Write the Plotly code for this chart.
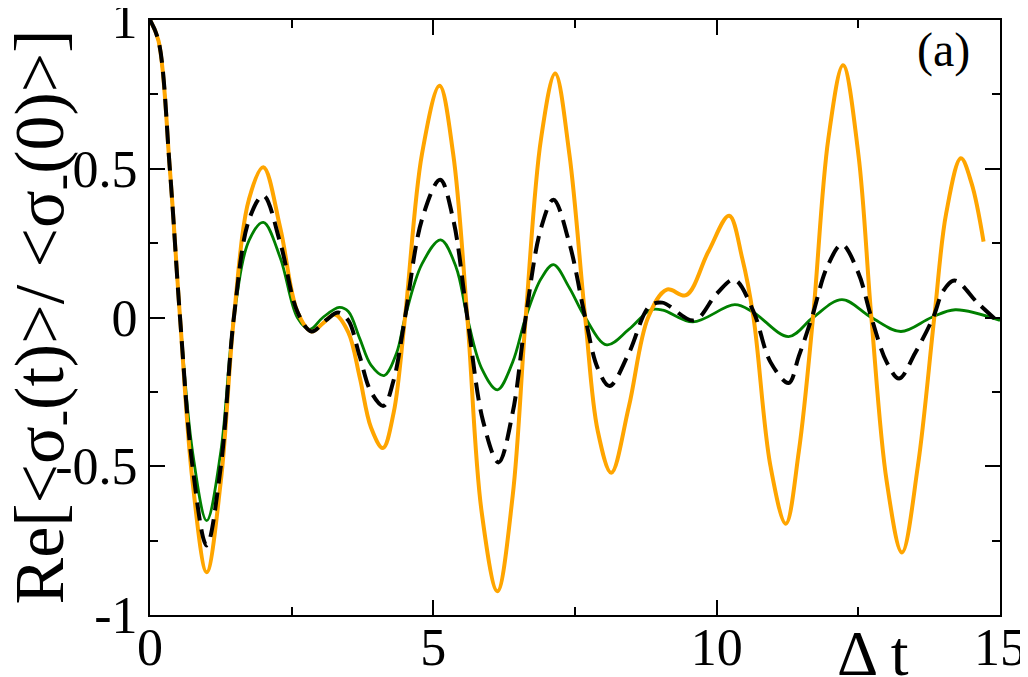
import plotly.graph_objects as go

# curves (t, Re[...])
t_orange = [0, 0.15, 0.35, 0.53, 0.75, 1.0, 1.25, 1.48, 1.75, 2.0, 2.3, 2.6, 2.85, 3.05, 3.26,
            3.5, 3.7, 3.9, 4.11, 4.3, 4.5, 4.8, 5.11, 5.35, 5.6, 5.85, 6.13, 6.4, 6.63, 6.9, 7.15,
            7.4, 7.68, 7.9, 8.14, 8.45, 8.79, 9.12, 9.46, 9.85, 10.22, 10.45, 10.65, 10.95, 11.22,
            11.45, 11.70, 11.97, 12.23, 12.5, 12.73, 13.0, 13.27, 13.55, 13.84, 14.05, 14.31, 14.5, 14.71]
y_orange = [1, 0.93, 0.5, 0.0, -0.55, -0.856, -0.55, 0.0, 0.4, 0.505, 0.3, 0.02, -0.047, -0.02, 0.01,
            -0.05, -0.2, -0.37, -0.439, -0.32, 0.0, 0.55, 0.779, 0.55, 0.0, -0.65, -0.92, -0.6, 0.0, 0.6, 0.82,
            0.55, 0.0, -0.38, -0.522, -0.3, 0.0, 0.094, 0.075, 0.22, 0.342, 0.2, 0.0, -0.5, -0.693,
            -0.45, 0.0, 0.6, 0.848, 0.55, 0.0, -0.55, -0.79, -0.5, 0.0, 0.35, 0.535, 0.45, 0.255]

t_black = [0, 0.15, 0.35, 0.53, 0.75, 1.0, 1.25, 1.48, 1.75, 2.0, 2.3, 2.6, 2.85, 3.1, 3.32,
           3.5, 3.7, 3.9, 4.12, 4.3, 4.5, 4.8, 5.12, 5.35, 5.6, 5.88, 6.15, 6.4, 6.63, 6.9, 7.12,
           7.4, 7.68, 7.9, 8.11, 8.45, 8.81, 9.04, 9.6, 10.0, 10.31, 10.65, 10.95, 11.27, 11.45,
           11.68, 11.95, 12.21, 12.5, 12.73, 13.0, 13.22, 13.5, 13.82, 14.0, 14.2, 14.6, 14.97]
y_black = [1, 0.93, 0.5, 0.0, -0.5, -0.766, -0.5, 0.0, 0.33, 0.41, 0.25, 0.02, -0.047, -0.01, 0.017,
           -0.01, -0.13, -0.25, -0.297, -0.21, 0.0, 0.33, 0.463, 0.33, 0.0, -0.35, -0.487, -0.32, 0.0, 0.3, 0.396,
           0.25, 0.0, -0.17, -0.23, -0.12, 0.037, 0.05, -0.01, 0.08, 0.127, 0.02, -0.15, -0.22, -0.13,
           0.0, 0.17, 0.245, 0.15, 0.0, -0.15, -0.205, -0.12, 0.0, 0.09, 0.124, 0.05, -0.015]

t_green = [0, 0.15, 0.35, 0.53, 0.75, 1.0, 1.25, 1.48, 1.75, 2.0, 2.3, 2.6, 2.82, 3.05, 3.34,
           3.5, 3.7, 3.9, 4.13, 4.35, 4.5, 4.8, 5.13, 5.4, 5.6, 5.85, 6.13, 6.4, 6.63, 6.9, 7.12,
           7.4, 7.68, 8.06, 8.45, 8.84, 9.05, 9.58, 10.32, 10.65, 11.27, 11.70, 12.21, 12.73,
           13.25, 13.79, 14.21, 15.0]
y_green = [1, 0.93, 0.5, 0.0, -0.45, -0.683, -0.45, 0.0, 0.26, 0.32, 0.2, 0.0, -0.04, 0.0, 0.034,
           0.02, -0.07, -0.16, -0.195, -0.12, 0.0, 0.18, 0.261, 0.17, 0.0, -0.17, -0.243, -0.15, 0.0, 0.13, 0.178,
           0.1, 0.0, -0.092, -0.04, 0.026, 0.025, -0.015, 0.043, 0.017, -0.064, 0.0, 0.06, 0.0,
           -0.047, 0.0, 0.026, -0.01]

x_ticks = [0, 5, 10, 15]
y_ticks = [-1, -0.5, 0, 0.5, 1]
y_ticklabels = ["-1", "-0.5", "0", "0.5", "1"]

serif = "Liberation Serif"

fig = go.Figure()
fig.add_trace(go.Scatter(x=t_green, y=y_green, mode="lines", line_shape="spline",
                         line=dict(color="#008000", width=2.8)))
fig.add_trace(go.Scatter(x=t_orange, y=y_orange, mode="lines", line_shape="spline",
                         line=dict(color="#FFA500", width=4)))
fig.add_trace(go.Scatter(x=t_black, y=y_black, mode="lines", line_shape="spline",
                         line=dict(color="black", width=4, dash="18px,9px")))

axis_common = dict(showgrid=False, zeroline=False, showline=True, linecolor="black", linewidth=2,
                   mirror="ticks", ticks="inside", ticklen=15, tickwidth=1.5, tickcolor="black",
                   ticklabeloverflow="allow", automargin=False,
                   tickfont=dict(family=serif, size=52, color="black"))

fig.update_xaxes(range=[0, 15], tickvals=x_ticks, ticklabelstandoff=-14,
                 minor=dict(dtick=2.5, ticks="inside", ticklen=8, tickwidth=1.5, tickcolor="black"),
                 **axis_common)
fig.update_yaxes(range=[-1, 1], tickvals=y_ticks, ticktext=y_ticklabels,
                 minor=dict(dtick=0.25, ticks="inside", ticklen=8, tickwidth=1.5, tickcolor="black"),
                 **axis_common)

# y title as a rotated annotation so it can sit at the far left like the original
fig.add_annotation(x=0, y=0.5, xref="paper", yref="paper", xshift=-106, textangle=-90,
                   xanchor="center", yanchor="middle", showarrow=False,
                   text="Re[&lt;σ<sub>-</sub>(t)&gt;/ &lt;σ<sub>-</sub>(0)&gt;]",
                   font=dict(family=serif, size=70, color="black"))
fig.add_annotation(x=12.75, y=-1, xref="x", yref="y", yshift=-38, text="Δ t", showarrow=False,
                   font=dict(family=serif, size=64, color="black"))
fig.add_annotation(x=14.0, y=0.9, xref="x", yref="y", text="(a)", showarrow=False,
                   font=dict(family=serif, size=48, color="black"))

# the page adds an 8px body margin, so the figure is sized to end at the window edge
fig.update_layout(width=1020, height=669, showlegend=False,
                  plot_bgcolor="white", paper_bgcolor="white",
                  margin=dict(l=142, r=28, t=12, b=62))

fig.write_html("out.html")
